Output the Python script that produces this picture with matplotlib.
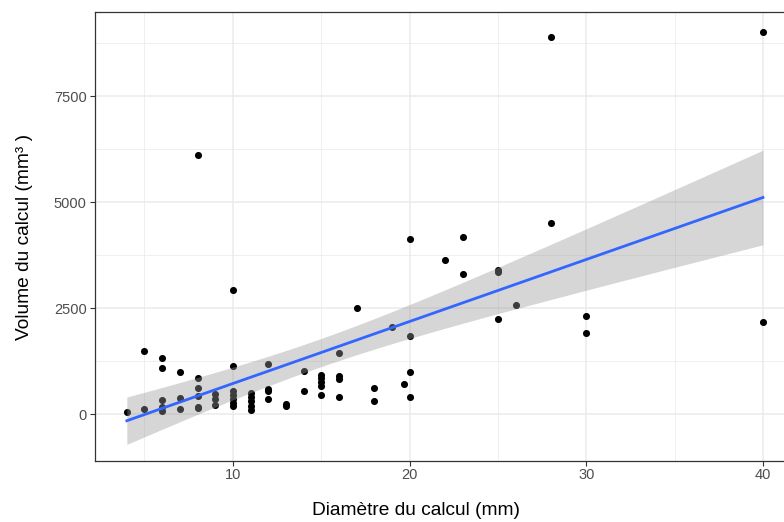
import numpy as np
import matplotlib
matplotlib.use('Agg')
import matplotlib.pyplot as plt
from matplotlib.ticker import MultipleLocator

plt.rcParams['font.family'] = ['Liberation Sans', 'DejaVu Sans']

# Diameter (mm) and volume (mm3) of each calculus
diam = [4,
        5, 5,
        6, 6, 6, 6, 6,
        7, 7, 7,
        8, 8, 8, 8, 8, 8,
        9, 9, 9,
        10, 10, 10, 10, 10, 10, 10,
        11, 11, 11, 11, 11,
        12, 12, 12, 12,
        13, 13,
        14, 14,
        15, 15, 15, 15, 15,
        16, 16, 16, 16,
        17,
        18, 18,
        19,
        19.7,
        20, 20, 20, 20,
        22,
        23, 23,
        25, 25, 25,
        26,
        28, 28,
        30, 30,
        40, 40]
vol = [60,
       1500, 140,
       1340, 1100, 330, 170, 80,
       1010, 385, 140,
       6120, 860, 620, 445, 180, 150,
       480, 360, 220,
       2930, 1150, 550, 470, 360, 260, 200,
       500, 410, 315, 210, 110,
       1200, 600, 560, 360,
       250, 210,
       1020, 550,
       940, 860, 760, 660, 470,
       1450, 900, 830, 420,
       2500,
       630, 320,
       2060,
       720,
       4130, 1860, 1000, 420,
       3630,
       4180, 3320,
       3400, 3360, 2240,
       2570,
       8900, 4500,
       2330, 1910,
       9000, 2180]

x = np.array(diam, dtype=float)
y = np.array(vol, dtype=float)

# linear fit with 95% confidence band (like geom_smooth(method = "lm"))
n = len(x)
slope, intercept = np.polyfit(x, y, 1)
resid = y - (intercept + slope * x)
s = np.sqrt(np.sum(resid ** 2) / (n - 2))
sxx = np.sum((x - x.mean()) ** 2)
t_crit = 1.995  # t(0.975, df ~ 69)
xs = np.linspace(x.min(), x.max(), 80)
ys = intercept + slope * xs
se = s * np.sqrt(1 / n + (xs - x.mean()) ** 2 / sxx)
lo = ys - t_crit * se
hi = ys + t_crit * se

fig = plt.figure(figsize=(7.84, 5.22), dpi=100)
ax = fig.add_axes([0.1212, 0.1169, 0.8925, 0.8602])

ax.scatter(x, y, s=26, color='black', linewidths=0, zorder=3)
ax.fill_between(xs, lo, hi, color='#999999', alpha=0.4, linewidth=0, zorder=4)
ax.plot(xs, ys, color='#3366FF', linewidth=2.0, zorder=5)

ax.set_xlim(2.2, 41.8)
ax.set_ylim(-1095, 9480)

ax.xaxis.set_major_locator(MultipleLocator(10))
ax.xaxis.set_minor_locator(MultipleLocator(5))
ax.yaxis.set_major_locator(MultipleLocator(2500))
ax.yaxis.set_minor_locator(MultipleLocator(1250))

ax.grid(True, which='major', color='#EBEBEB', linewidth=1.1, zorder=0)
ax.grid(True, which='minor', color='#EBEBEB', linewidth=0.55, zorder=0)
ax.set_axisbelow(True)

for sp in ax.spines.values():
    sp.set_color('#333333')
    sp.set_linewidth(0.9)

ax.tick_params(which='major', length=3.5, width=0.8, color='#333333',
               labelcolor='#4D4D4D', labelsize=10.5, pad=2.5)
ax.tick_params(axis='x', which='major', pad=1.5)
ax.tick_params(which='minor', length=0)

ax.set_xlabel('Diamètre du calcul (mm)', fontsize=13.8)
ax.xaxis.set_label_coords(0.459, -0.092)
ax.set_ylabel('Volume du calcul (mm³ )', fontsize=13.8, labelpad=15)

fig.savefig('out.png', dpi=100)
